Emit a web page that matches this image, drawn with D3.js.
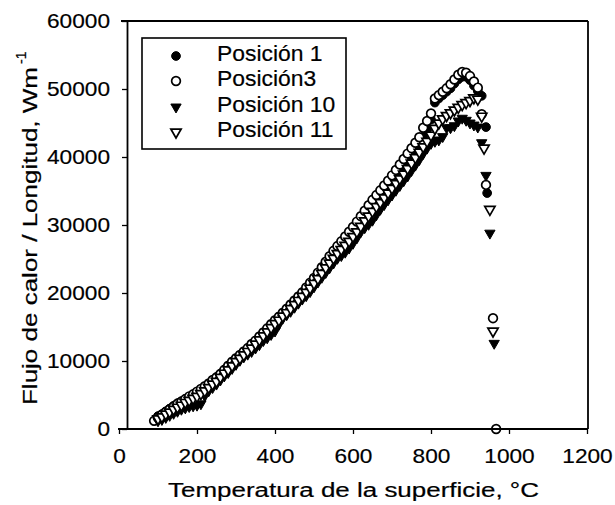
<!DOCTYPE html>
<html><head><meta charset="utf-8">
<script src="https://cdn.jsdelivr.net/npm/d3@7"></script>
<style>
body{margin:0;background:#fff}
svg{display:block}
text{font-family:"Liberation Sans",Arial,Helvetica,sans-serif;fill:#000;stroke:#000;stroke-width:0.2px}
</style>
</head><body>
<svg id="chart" width="615" height="505"></svg>
<script>
// ---------------- DATA ----------------
const xTicks = [0, 200, 400, 600, 800, 1000, 1200];
const yTicks = [0, 10000, 20000, 30000, 40000, 50000, 60000];
const legendNames = ["Posición 1", "Posición3", "Posición 10", "Posición 11"];
const xTitle = "Temperatura de la superficie, °C";
const yTitle = "Flujo de calor / Longitud,  Wm";
const yTitleSup = "-1";

// shared temperature grid of the main run (°C)
const temps = [100,110,120,130,140,150,160,170,180,190,
  200,210,220,230,240,250,260,270,280,290,
  300,310,320,330,340,350,360,370,380,390,
  400,410,420,430,440,450,460,470,480,490,
  500,510,520,530,540,550,560,570,580,590,
  600,610,620,630,640,650,660,670,680,690,
  700,710,720,730,740,750,760,770,780,790,
  800,810,820,830,840,850,860,870,880,890,
  900,910,920,930];

const pos1Q = [1900,2200,2600,3000,3400,3800,4100,4400,4700,5000,
  5300,5700,6100,6600,7100,7600,8100,8700,9300,9800,
  10300,10800,11300,11800,12400,12900,13500,14100,14700,15300,
  15900,16400,16900,17500,18100,18700,19300,19900,20500,21100,
  21800,22500,23300,24100,24800,25500,26200,26900,27500,28200,
  28900,29600,30400,31300,32000,32600,33300,33900,34600,35300,
  36000,36700,37400,38200,39000,39800,40600,41400,43000,44000,
  45500,48000,48600,49100,49600,50100,50800,51400,51800,51800,
  51300,50500,49700,49000];
const pos1TailT = [941, 944];
const pos1TailQ = [44400, 34700];

const pos3Q = [1700,2100,2500,2900,3300,3700,4000,4400,4800,5100,
  5500,5900,6300,6700,7200,7600,8100,8700,9300,9900,
  10400,10900,11400,11900,12500,13000,13600,14200,14800,15400,
  16000,16500,17100,17700,18300,18900,19500,20100,20800,21500,
  22200,23000,23800,24600,25400,26200,26900,27600,28300,29000,
  29700,30500,31300,32100,32900,33700,34400,35100,35800,36500,
  37300,38100,38900,39700,40500,41300,42100,42900,44300,45300,
  46400,48600,49100,49600,50100,50700,51400,52100,52500,52400,
  51900,51100,50200,46300];
const pos3ExtraT = [90, 941, 959, 967];
const pos3ExtraQ = [1200, 35900, 16300, 0];

const pos10Q = [1200,1400,1700,2000,2300,2600,2900,3100,3300,3400,
  3500,3700,4900,5600,6100,6600,7200,7800,8300,8900,
  9500,10100,10600,11000,11400,11900,12400,13000,13400,13900,
  14400,15400,16300,16800,17300,17900,18500,19100,19600,20200,
  20900,21600,22300,23000,23700,24400,25100,25500,26000,26600,
  27300,28100,29000,29600,30100,30700,31500,32300,33000,33700,
  34400,35100,35800,36500,37200,38000,38800,39600,40500,41300,
  42000,42300,42500,43000,44300,44300,44600,45300,45700,45400,
  45000,44700,44400,42100];
const pos10TailT = [941, 951, 962];
const pos10TailQ = [37300, 28800, 12600];

const pos11Q = [1500,1800,2200,2500,2900,3200,3500,3900,4200,4500,
  4800,5200,5600,6100,6600,7000,7600,8200,8700,9300,
  9900,10400,10900,11400,11900,12500,13100,13700,14300,14900,
  15500,16000,16600,17100,17700,18300,18900,19500,20100,20700,
  21400,22100,22900,23700,24400,25100,25800,26400,27000,27600,
  28300,29000,29800,30600,31300,32000,32700,33300,34000,34700,
  35400,36100,36800,37500,38300,39100,39900,40700,41500,42300,
  43200,44200,45000,45600,46100,46500,46900,47300,47700,48000,
  48300,48700,48500,46000];
const pos11TailT = [936, 951, 959];
const pos11TailQ = [41300, 32300, 14400];

// ---------------- CHART ----------------
const svg = d3.select("#chart");
const x = d3.scaleLinear().domain([0, 1200]).range([119, 587]);
const y = d3.scaleLinear().domain([0, 60000]).range([429, 21]);
const yAxisX = 127;

const series = [
  {name: legendNames[0], t: temps.concat(pos1TailT), q: pos1Q.concat(pos1TailQ), shape: "circle", filled: true},
  {name: legendNames[1], t: pos3ExtraT.slice(0,1).concat(temps, pos3ExtraT.slice(1)), q: pos3ExtraQ.slice(0,1).concat(pos3Q, pos3ExtraQ.slice(1)), shape: "circle", filled: false},
  {name: legendNames[2], t: temps.concat(pos10TailT), q: pos10Q.concat(pos10TailQ), shape: "tri", filled: true},
  {name: legendNames[3], t: temps.concat(pos11TailT), q: pos11Q.concat(pos11TailQ), shape: "tri", filled: false}
];

const circ = d3.symbol().type(d3.symbolCircle).size(60)();
const tri = d3.symbol().type(d3.symbolTriangle).size(46)();

function marker(sel, s) {
  sel.append("path")
    .attr("d", s.shape === "circle" ? circ : tri)
    .attr("fill", s.filled ? "#000" : "#fff")
    .attr("stroke", "#000")
    .attr("stroke-width", s.filled ? 1 : 1.7);
}

// frame
const frame = svg.append("g").attr("stroke", "#000").attr("stroke-width", 1.8).attr("fill", "none");
frame.append("line").attr("x1", yAxisX - 6).attr("x2", x(1200) + 1).attr("y1", y(60000)).attr("y2", y(60000));
frame.append("line").attr("x1", x(1200) + 1).attr("x2", x(1200) + 1).attr("y1", y(60000)).attr("y2", y(0));

// points
series.forEach(s => {
  const g = svg.append("g");
  s.t.forEach((t, i) => {
    const m = g.append("g")
      .attr("transform", `translate(${x(t)},${y(s.q[i])})` + (s.shape === "tri" ? " rotate(180)" : ""));
    marker(m, s);
  });
});

// x axis
const gx = svg.append("g").attr("transform", `translate(0,${y(0)})`)
  .call(d3.axisBottom(x).tickValues(xTicks).tickSize(5).tickSizeOuter(0).tickFormat(d => d));
gx.attr("font-size", null).attr("font-family", null);
gx.select(".domain").attr("stroke-width", 1.8).attr("d", `M${x(0) - 1},0H${x(1200) + 1}`);
gx.selectAll(".tick line").attr("stroke-width", 1.3);
gx.selectAll(".tick text").attr("y", 34).attr("dy", 0).style("font-size", "21px");

// y axis
const gy = svg.append("g").attr("transform", `translate(${yAxisX},0)`)
  .call(d3.axisLeft(y).tickValues(yTicks).tickSize(5).tickSizeOuter(0).tickFormat(d => d));
gy.attr("font-size", null).attr("font-family", null);
gy.select(".domain").attr("stroke-width", 1.8);
gy.selectAll(".tick line").attr("stroke-width", 1.3);
gy.selectAll(".tick text").attr("x", -17).attr("dy", "0.3em").style("font-size", "21px");

svg.selectAll(".tick text").each(function() {
  const n = this.textContent.length;
  this.setAttribute("textLength", n * 12.6);
  this.setAttribute("lengthAdjust", "spacingAndGlyphs");
});

// axis titles
svg.append("text").attr("x", 168).attr("y", 497)
  .attr("textLength", 371).attr("lengthAdjust", "spacingAndGlyphs")
  .style("font-size", "20px").text(xTitle);
svg.append("text").attr("transform", "translate(37,405) rotate(-90)")
  .attr("textLength", 338).attr("lengthAdjust", "spacingAndGlyphs")
  .style("font-size", "20px").text(yTitle);
svg.append("text").attr("transform", "translate(26,64) rotate(-90)")
  .style("font-size", "14px").text(yTitleSup);

// legend
const lg = svg.append("g");
lg.append("rect").attr("x", 142).attr("y", 38).attr("width", 204).attr("height", 111)
  .attr("fill", "#fff").attr("stroke", "#000").attr("stroke-width", 1.6);
const rowY = [56, 81, 107, 132];
series.forEach((s, i) => {
  const m = lg.append("g").attr("transform", `translate(176,${rowY[i]})` + (s.shape === "tri" ? " rotate(180)" : ""));
  marker(m, s);
  const t = lg.append("text").attr("x", 217).attr("y", rowY[i] + 5).style("font-size", "22px").text(s.name);
  const L = t.node().getComputedTextLength();
  t.attr("textLength", L * 1.04).attr("lengthAdjust", "spacingAndGlyphs");
});
</script>
</body></html>
